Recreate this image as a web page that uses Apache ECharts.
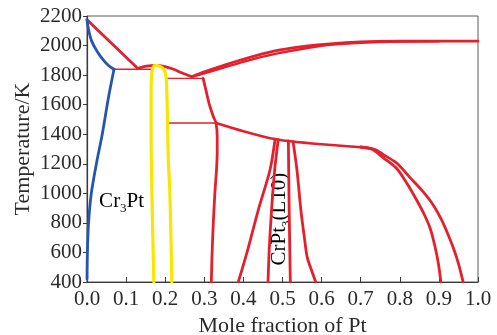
<!DOCTYPE html>
<html>
<head>
<meta charset="utf-8">
<style>
  html, body { margin: 0; padding: 0; background: #fff; }
  #chart { width: 497px; height: 335px; }
</style>
<script src="https://cdn.jsdelivr.net/npm/echarts@6/dist/echarts.min.js"></script>
</head>
<body>
<div id="chart"></div>
<script>
// Cr–Pt phase diagram: phase boundaries as [mole fraction Pt, temperature K]

const xTicks = [0, 0.1, 0.2, 0.3, 0.4, 0.5, 0.6, 0.7, 0.8, 0.9, 1.0];
const yTicks = [400, 600, 800, 1000, 1200, 1400, 1600, 1800, 2000, 2200];

// Cr-rich bcc solid solution (blue)
const bccSolidus = [[0, 2175], [0.004, 2107], [0.012, 2030], [0.026, 1960], [0.041, 1905], [0.055, 1865], [0.069, 1840]];
const bccSolvus = [[0.069, 1840], [0.055, 1650], [0.039, 1400], [0.024, 1200], [0.011, 1000], [0.004, 800], [0.001, 600], [0, 420]];

// Cr3Pt field (yellow)
const cr3PtBoundary = [[0.171, 400], [0.166, 1000], [0.164, 1400], [0.164, 1700], [0.166, 1820], [0.170, 1856], [0.175, 1866],
  [0.186, 1860], [0.196, 1840], [0.202, 1790], [0.204, 1700], [0.206, 1476], [0.208, 1225], [0.212, 1000], [0.217, 400]];

// liquidus and solidus (red)
const liquidusCr = [[0, 2175], [0.13, 1845]];
const liquidusMid = [[0.13, 1845], [0.152, 1860], [0.175, 1866], [0.20, 1858], [0.22, 1841], [0.242, 1816], [0.268, 1789]];
const liquidusPt = [[0.268, 1789], [0.30, 1822], [0.366, 1880], [0.43, 1930], [0.494, 1970], [0.56, 1996], [0.621, 2012], [0.70, 2024], [0.80, 2029], [1.0, 2030]];
const solidusPt = [[0.268, 1789], [0.30, 1812], [0.366, 1864], [0.43, 1912], [0.494, 1950], [0.56, 1982], [0.621, 2005], [0.70, 2019], [0.80, 2027], [0.90, 2029]];

// invariant (horizontal) lines
const eutecticLine = [[0.069, 1840], [0.165, 1840]];
const peritecticLine = [[0.204, 1778], [0.297, 1778]];
const eutectoidLine = [[0.205, 1476], [0.330, 1476]];

// Pt-rich fcc solvus and order/disorder boundaries
const fccSolvusLeft = [[0.297, 1778], [0.304, 1700], [0.313, 1600], [0.323, 1520], [0.330, 1476], [0.333, 1380], [0.333, 1280], [0.331, 1150],
  [0.327, 1000], [0.323, 800], [0.320, 600], [0.318, 400]];
const orderTop = [[0.330, 1476], [0.40, 1420], [0.45, 1385], [0.48, 1368], [0.52, 1352], [0.60, 1332], [0.70, 1312], [0.725, 1304]];
const crPt3Outer = [[0.481, 1366], [0.468, 1158], [0.438, 887], [0.411, 617], [0.387, 400]];
const crPt3Inner = [[0.489, 1364], [0.480, 1158], [0.472, 887], [0.466, 617], [0.463, 400]];
const crPtInner = [[0.515, 1354], [0.517, 900], [0.520, 400]];
const crPtOuter = [[0.527, 1350], [0.537, 1158], [0.547, 887], [0.556, 700], [0.563, 570], [0.574, 481], [0.585, 400]];
const ptRichInner = [[0.700, 1312], [0.730, 1296], [0.758, 1240], [0.792, 1168], [0.820, 1060], [0.843, 955], [0.862, 860], [0.878, 760], [0.890, 640], [0.899, 520], [0.905, 400]];
const ptRichOuter = [[0.700, 1314], [0.735, 1298], [0.758, 1262], [0.792, 1205], [0.825, 1110], [0.855, 1025], [0.882, 935], [0.905, 830], [0.922, 730], [0.937, 630], [0.950, 525], [0.962, 400]];

const RED = '#e3202c';
const BLUE = '#2456b0';
const YELLOW = '#f6e600';
const SERIF = '"Liberation Serif", "DejaVu Serif", serif';

function curve(data, color, width, smooth) {
  return {
    type: 'line', data: data, showSymbol: false, symbol: 'none',
    smooth: smooth, silent: true,
    lineStyle: { color: color, width: width, cap: 'round', join: 'round' }
  };
}

const chart = echarts.init(document.getElementById('chart'), null, { renderer: 'canvas' });

chart.setOption({
  animation: false,
  backgroundColor: '#ffffff',
  grid: {
    left: 87, top: 16, right: 19, bottom: 53, containLabel: false, outerBoundsMode: 'none',
    show: true, borderColor: '#5a5a5a', borderWidth: 1, backgroundColor: 'transparent'
  },
  xAxis: {
    type: 'value', min: xTicks[0], max: xTicks[xTicks.length - 1], interval: 0.1,
    name: 'Mole fraction of Pt', nameLocation: 'middle', nameGap: 33, nameMoveOverlap: false,
    nameTextStyle: { fontFamily: SERIF, fontSize: 22, color: '#2a2a2a' },
    axisLine: { show: true, lineStyle: { color: '#3a3a3a', width: 1.2 } },
    axisTick: { show: true, inside: true, length: 5, lineStyle: { color: '#3a3a3a' } },
    axisLabel: { fontFamily: SERIF, fontSize: 21, color: '#2a2a2a', margin: 7, formatter: v => v.toFixed(1) },
    splitLine: { show: false }
  },
  yAxis: {
    type: 'value', min: yTicks[0], max: yTicks[yTicks.length - 1], interval: 200,
    name: 'Temperature/K', nameLocation: 'middle', nameGap: 53, nameRotate: 90, nameMoveOverlap: false,
    nameTextStyle: { fontFamily: SERIF, fontSize: 22, color: '#2a2a2a' },
    axisLine: { show: true, lineStyle: { color: '#3a3a3a', width: 1.2 } },
    axisTick: { show: true, inside: false, length: 4, lineStyle: { color: '#3a3a3a' } },
    axisLabel: { fontFamily: SERIF, fontSize: 21, color: '#2a2a2a', margin: 5, formatter: v => String(v) },
    splitLine: { show: false }
  },
  series: [
    curve(eutecticLine, RED, 1.4, false),
    curve(peritecticLine, RED, 1.4, false),
    curve(eutectoidLine, RED, 1.4, false),
    curve(liquidusCr, RED, 2.8, false),
    curve(liquidusMid, RED, 2.8, 0.3),
    curve(liquidusPt, RED, 2.8, 0.3),
    curve(solidusPt, RED, 2.4, 0.3),
    curve(fccSolvusLeft, RED, 2.8, 0.3),
    curve(orderTop, RED, 2.6, 0.3),
    curve(crPt3Outer, RED, 2.8, 0.3),
    curve(crPt3Inner, RED, 2.8, 0.3),
    curve(crPtInner, RED, 2.8, 0.3),
    curve(crPtOuter, RED, 2.8, 0.3),
    curve(ptRichInner, RED, 2.8, 0.3),
    curve(ptRichOuter, RED, 2.8, 0.3),
    curve(bccSolidus, BLUE, 2.8, 0.3),
    curve(bccSolvus, BLUE, 2.8, 0.3),
    curve(cr3PtBoundary, YELLOW, 3.2, 0.3)
  ]
});

// phase labels placed in data coordinates
const p1 = chart.convertToPixel({ gridIndex: 0 }, [0.031, 955]);
const p2 = chart.convertToPixel({ gridIndex: 0 }, [0.488, 826]);
const subRich = {
  m: { fontFamily: SERIF, fontSize: 21, color: '#2a2a2a', lineHeight: 24, verticalAlign: 'bottom' },
  s: { fontFamily: SERIF, fontSize: 13, color: '#2a2a2a', lineHeight: 24, verticalAlign: 'bottom', padding: [0, 0, -3, 0] }
};
chart.setOption({
  graphic: [
    {
      type: 'text', x: p1[0], y: p1[1], silent: true,
      style: { text: '{m|Cr}{s|3}{m|Pt}', rich: subRich, align: 'left', verticalAlign: 'middle' }
    },
    {
      type: 'text', x: p2[0], y: p2[1], rotation: Math.PI / 2, silent: true,
      style: { text: '{m|CrPt}{s|3}{m|(L10)}', rich: subRich, align: 'center', verticalAlign: 'middle' }
    }
  ]
});
</script>
</body>
</html>
